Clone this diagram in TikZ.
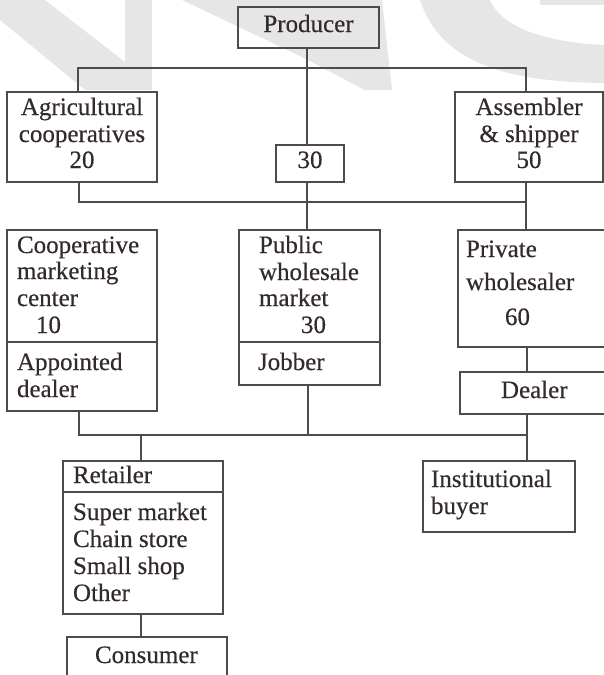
\documentclass[tikz,border=0pt]{standalone}
\usepackage{fontspec}
\setmainfont{Liberation Serif}
\newfontfamily\labelfont[FakeBold=0.4]{Liberation Serif}
\definecolor{ink}{RGB}{50,43,41}
\definecolor{linec}{RGB}{78,76,74}
\definecolor{wmk}{RGB}{230,230,230}
% one line of text, left-aligned on its baseline / centred on its baseline
\newcommand\putL[4]{\node[lbl,anchor=base west] (#1) at (#2,#3) {#4};}
\newcommand\putC[4]{\node[lbl,anchor=base] (#1) at (#2,#3) {#4};}
\begin{document}
\begin{tikzpicture}[x=1pt,y=-1pt,
  box/.style={draw=linec, line width=1.3pt, rectangle, inner sep=0pt,
    outer sep=0pt, anchor=north west},
  lbl/.style={text=ink, font=\labelfont\fontsize{25}{27}\selectfont, inner sep=0pt,
    outer sep=0pt},
  wire/.style={draw=linec, line width=1.3pt},
  wm/.style={fill=wmk, draw=none}]
\useasboundingbox (0,0) rectangle (604,675);
\clip (0,0) rectangle (604,675);

% faint lettering in the background
\fill[wm] (0,0) -- (45,0) -- (125,62) -- (125,90) -- (85,90) -- (0,20) -- cycle;
\fill[wm] (125,0) rectangle (152,90);
\fill[wm] (182,0) -- (382,0) -- (392,90) -- (365,90) -- (302,57) -- cycle;
\fill[wm] (420,0) .. controls (440,60) and (500,82) .. (604,83)
  -- (604,45) .. controls (540,42) and (500,25) .. (490,0) -- cycle;
\fill[wm] (540,0) rectangle (604,5);

% boxes
\node[box, minimum width=141pt, minimum height=41pt]  (prod)  at (238,7)   {};
\node[box, minimum width=150pt, minimum height=90pt]  (agri)  at (7,92)    {};
\node[box, minimum width=68pt,  minimum height=37pt]  (c30)   at (276,145) {};
\node[box, minimum width=148pt, minimum height=90pt]  (asm)   at (455,92)  {};
\node[box, minimum width=150pt, minimum height=112pt] (coop)  at (7,230)   {};
\node[box, minimum width=150pt, minimum height=69pt]  (appt)  at (7,342)   {};
\node[box, minimum width=141pt, minimum height=112pt] (pub)   at (239,230) {};
\node[box, minimum width=141pt, minimum height=43pt]  (jobb)  at (239,342) {};
\node[box, minimum width=160pt, minimum height=117pt] (priv)  at (458,230) {};
\node[box, minimum width=160pt, minimum height=42pt]  (deal)  at (460,372) {};
\node[box, minimum width=160pt, minimum height=31pt]  (ret)   at (63,461)  {};
\node[box, minimum width=160pt, minimum height=122pt] (shops) at (63,492)  {};
\node[box, minimum width=152pt, minimum height=71pt]  (inst)  at (423,461) {};
\node[box, minimum width=160pt, minimum height=60pt]  (cons)  at (67,637)  {};

% texts
\putC{tprod}{308.5}{32}{Producer}
\putC{tagA}{82}{115}{Agricultural}
\putC{tagB}{82}{142}{cooperatives}
\putC{tagC}{82}{168}{20}
\putC{tc30}{310}{168}{30}
\putC{tasA}{529}{115}{Assembler}
\putC{tasB}{529}{142}{\& shipper}
\putC{tasC}{529}{168}{50}
\putL{tcoA}{17}{253}{Cooperative}
\putL{tcoB}{17}{279}{marketing}
\putL{tcoC}{17}{306}{center}
\putL{tcoD}{36}{333}{10}
\putL{tapA}{17}{370}{Appointed}
\putL{tapB}{17}{397}{dealer}
\putL{tpuA}{259}{253}{Public}
\putL{tpuB}{259}{280}{wholesale}
\putL{tpuC}{259}{306}{market}
\putL{tpuD}{301}{333}{30}
\putL{tjob}{258}{370}{Jobber}
\putL{tprA}{466}{257}{Private}
\putL{tprB}{466}{290}{wholesaler}
\putL{tprC}{505}{325}{60}
\putL{tdeal}{501}{398}{Dealer}
\putL{tinA}{431}{487}{Institutional}
\putL{tinB}{431}{514}{buyer}
\putL{tret}{73}{483}{Retailer}
\putL{tshA}{73}{520}{Super market}
\putL{tshB}{73}{547}{Chain store}
\putL{tshC}{73}{574}{Small shop}
\putL{tshD}{73}{601}{Other}
\putL{tcons}{95}{663}{Consumer}

% junction points of the connectors
\coordinate (ja) at (307,68);
\coordinate (jaL) at (78,68);
\coordinate (jaR) at (526,68);
\coordinate (jbL) at (79,202);
\coordinate (jbR) at (526,202);
\coordinate (jcL) at (79,435);
\coordinate (jcM) at (308,435);
\coordinate (jcR) at (527,435);
\coordinate (jcT) at (141,435);

% connectors
\draw[wire] (prod.south -| ja) -- (c30.north -| ja);
\draw[wire] (agri.north -| jaL) -- (jaL) -- (jaR) -- (asm.north -| jaR);
\draw[wire] (agri.south -| jbL) -- (jbL) -- (jbR) -- (priv.north -| jbR);
\draw[wire] (asm.south -| jbR) -- (jbR);
\draw[wire] (c30.south -| ja) -- (pub.north -| ja);
\draw[wire] (priv.south -| jcR) -- (deal.north -| jcR);
\draw[wire] (appt.south -| jcL) -- (jcL) -- (jcR) -- (inst.north -| jcR);
\draw[wire] (deal.south -| jcR) -- (jcR);
\draw[wire] (jobb.south -| jcM) -- (jcM);
\draw[wire] (jcT) -- (ret.north -| jcT);
\draw[wire] (shops.south -| jcT) -- (cons.north -| jcT);
\end{tikzpicture}
\end{document}
